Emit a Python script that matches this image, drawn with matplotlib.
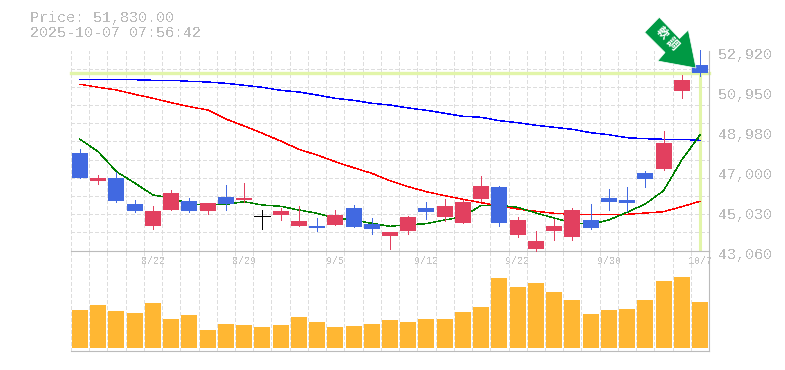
import numpy as np
import matplotlib
matplotlib.use("Agg")
import matplotlib.pyplot as plt
from matplotlib.patches import Polygon
from matplotlib.transforms import ScaledTranslation

price_text = "Price: 51,830.00"
time_text = "2025-10-07 07:56:42"
badge_chars = ["軟", "調"]
last_price = 51830

x_tick_pos = [4, 9, 14, 19, 24, 29, 34]
x_tick_labels = ["8/22", "8/29", "9/5", "9/12", "9/22", "9/30", "10/7"]
y_tick_vals = [52920, 50950, 48980, 47000, 45030, 43060]
y_tick_labels = ["52,920", "50,950", "48,980", "47,000", "45,030", "43,060"]

opens = [47867, 46487, 46635, 45353, 44268, 45057, 45501, 45008, 45698, 45550, 44746, 44810,
         44268, 44268, 44318, 45156, 44367, 43775, 44022, 45156, 44712, 44416, 45599, 46191,
         43824, 43134, 44022, 43726, 44564, 45649, 45550, 46881, 47078, 50924, 52205]
closes = [46635, 46649, 45501, 45008, 45008, 45895, 45008, 45402, 45353, 45649, 44746, 45008,
          44515, 44170, 44810, 44219, 44120, 43972, 44712, 44958, 45254, 45451, 46240, 44416,
          44564, 43529, 44268, 45057, 44170, 45451, 45402, 46585, 48360, 51466, 51830]
highs = [48064, 46782, 46930, 45550, 45254, 46043, 45649, 45402, 46289, 46388, 45057, 45156,
         45254, 44663, 45057, 45303, 44663, 43972, 44761, 45451, 45599, 45550, 46733, 46240,
         44712, 44022, 44613, 45156, 45353, 46092, 46191, 46980, 48952, 51712, 52945]
lows = [46635, 46339, 45451, 44958, 44120, 45057, 44958, 44860, 45057, 45451, 44120, 44564,
        44268, 44022, 44318, 44219, 43874, 43134, 43874, 44613, 44515, 44416, 45501, 44268,
        43726, 43036, 43578, 43578, 44120, 45057, 45008, 46191, 47029, 50579, 51663]

ma_short = [48543, 47931, 46945, 46388, 45796, 45649, 45353, 45303, 45338, 45466, 45303, 45239,
            45057, 44894, 44663, 44564, 44401, 44253, 44332, 44382, 44564, 44727, 45289, 45289,
            45190, 44909, 44663, 44416, 44352, 44564, 44944, 45353, 46008, 47522, 48754]
ma_mid = [51254, 51106, 50973, 50761, 50564, 50347, 50150, 49987, 49543, 49198, 48838, 48459,
          48050, 47768, 47438, 47142, 46866, 46501, 46206, 45959, 45762, 45585, 45417, 45254,
          45106, 44993, 44894, 44845, 44845, 44845, 44845, 44909, 44973, 45220, 45486]
ma_long = [51501, 51501, 51501, 51481, 51451, 51451, 51402, 51367, 51303, 51205, 51106, 50958,
           50874, 50726, 50564, 50465, 50317, 50233, 50086, 49972, 49824, 49676, 49627, 49459,
           49361, 49233, 49134, 49036, 48868, 48769, 48621, 48572, 48543, 48543, 48493]

volume = [38000, 43000, 37000, 35000, 45000, 29000, 33000, 18000, 24000, 23000, 21000, 23000,
          31000, 26000, 21000, 22000, 24000, 28000, 26000, 29000, 29000, 36000, 41000, 70000,
          61000, 65000, 56000, 48000, 34000, 38000, 39000, 48000, 67000, 71000, 46000]

W, H = 785, 370
GREY = "#bbbbbb"
GRID = "#dddddd"
UP = "#e2405f"
DOWN = "#4169e1"
LINE_PT = 0.45
MA_PT = 0.3
DASH = (0, (4.8, 3.2))

plt.rcParams["font.family"] = ["Liberation Mono", "DejaVu Sans Mono"]
plt.rcParams["text.antialiased"] = False

fig = plt.figure(figsize=(W / 100, H / 100), dpi=100, facecolor="white")
L, R = 70.9, 709.1


def box(top, bottom):
    return [L / W, 1 - bottom / H, (R - L) / W, (bottom - top) / H]


ax = fig.add_axes(box(50.5, 250.5))
vx = fig.add_axes(box(250.5, 350.5))
n = len(volume)
xs = np.arange(n)
body_w = 16 / 18.235

for a in (ax, vx):
    a.set_xlim(-0.5, n - 0.5)
    a.set_facecolor("none")
    a.set_xticks(np.arange(n + 1) - 0.5, minor=True)
    a.grid(True, which="minor", axis="x", color=GRID, lw=LINE_PT, ls=DASH, antialiased=False)
    a.tick_params(which="both", length=0)
    a.set_axisbelow(True)
    for s in a.spines.values():
        s.set_visible(False)
    for s in ("right", "bottom"):
        a.spines[s].set_visible(True)
        a.spines[s].set_color(GREY)
        a.spines[s].set_linewidth(0.8)
    for t in a.xaxis.get_minor_ticks():
        t.gridline.set_clip_on(False)

ymax, ymin = 52920, 43060
ax.set_ylim(ymin, ymax)
ax.set_yticks(np.linspace(ymin, ymax, 12), minor=True)
ax.grid(True, which="minor", axis="y", color=GRID, lw=LINE_PT, ls=DASH, antialiased=False)
for t in ax.yaxis.get_minor_ticks():
    t.gridline.set_clip_on(False)

ax.yaxis.tick_right()
ax.set_yticks(y_tick_vals)
ax.set_yticklabels(y_tick_labels, fontsize=10.8, color=GREY)
ax.tick_params(axis="y", which="major", pad=6.5)
shift = ScaledTranslation(0, -3 / 100, fig.dpi_scale_trans)
for lab in ax.get_yticklabels():
    lab.set_transform(lab.get_transform() + shift)

ax.set_xticks(x_tick_pos)
ax.set_xticklabels(x_tick_labels, fontsize=7.2, color="#c4c4c4")
ax.tick_params(axis="x", which="major", pad=3.6)
vx.set_xticks([])
vx.set_yticks([])

# latest price guides
ax.axhline(last_price, color="#e2f5a9", lw=2.4, zorder=1.5, clip_on=False)
ax.vlines(n - 1, ymin, last_price, color="#e2f5a9", lw=2.2, zorder=1.5)

# moving averages
ax.plot(xs, ma_long, color="#0000ff", lw=MA_PT, antialiased=False, zorder=2)
ax.plot(xs, ma_mid, color="#ff0000", lw=MA_PT, antialiased=False, zorder=2)
ax.plot(xs, ma_short, color="#008000", lw=MA_PT, antialiased=False, zorder=2)

# candles
for i in xs:
    o, c = opens[i], closes[i]
    col = "black" if o == c else (UP if c > o else DOWN)
    ax.vlines(i, lows[i], highs[i], color=col, lw=0.72, antialiased=False, zorder=3, clip_on=False)
    if o == c:
        ax.hlines(o, i - body_w / 2, i + body_w / 2, color=col, lw=0.72, antialiased=False, zorder=3)
    else:
        ax.bar(i, abs(c - o), bottom=min(o, c), width=body_w, color=col, lw=0, antialiased=False, zorder=3)

# volume
vx.bar(xs, volume, width=body_w, color="#ffb733", lw=0, antialiased=False, zorder=3)
vx.set_ylim(-2500, 97500)

# header text
fig.text(29.5 / W, 1 - 18 / H, price_text, fontsize=10.8, color=GREY, va="center", ha="left")
fig.text(29.5 / W, 1 - 33 / H, time_text, fontsize=10.8, color=GREY, va="center", ha="left")

# trend badge
arrow_px = [(659.3, 17.3), (644.7, 32.3), (665, 52.5), (657.7, 61), (696, 68),
            (688.3, 30), (679.5, 38.5)]
fig.add_artist(Polygon([(x / W, 1 - y / H) for x, y in arrow_px], closed=True,
                       transform=fig.transFigure, facecolor="#009944",
                       edgecolor="white", lw=0.5, zorder=10))
for ch, (cx, cy) in zip(badge_chars, [(661.7, 32.7), (672.3, 44.3)]):
    fig.text(cx / W, 1 - cy / H, ch, rotation=-45, rotation_mode="anchor",
             fontsize=8.5, color="white", fontweight="bold", ha="center", va="center",
             family=["Noto Sans CJK JP", "DejaVu Sans"], zorder=11, antialiased=True)

fig.savefig("out.png", dpi=100, facecolor="white")
